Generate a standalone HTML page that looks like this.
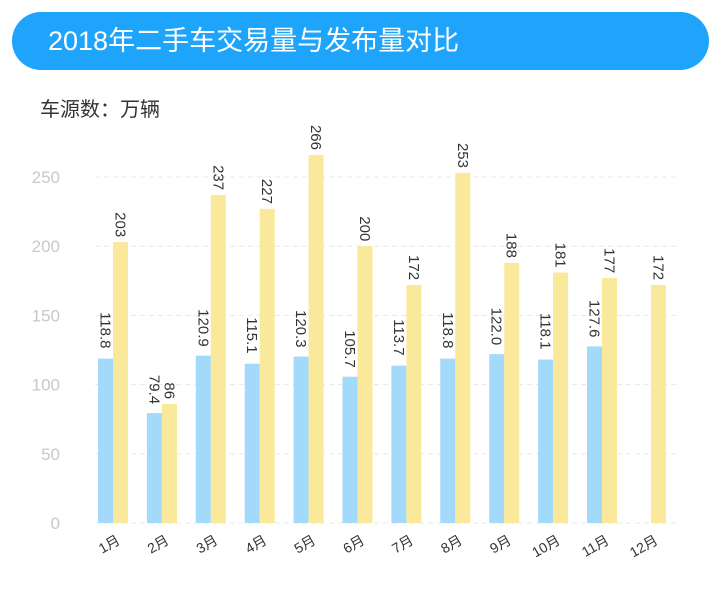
<!DOCTYPE html>
<html><head><meta charset="utf-8"><style>
body{margin:0;width:721px;height:595px;background:#fff;font-family:"Liberation Sans","Noto Sans CJK SC",sans-serif;overflow:hidden}
#hdr{position:absolute;left:12px;top:12px;width:697px;height:58px;border-radius:29px;background:#1ea5fb;color:#fff;font-size:27px;line-height:58px;padding-left:36px;box-sizing:border-box}
#unit{position:absolute;left:40px;top:93px;font-size:20px;color:#333}
</style></head><body>
<div id="hdr">2018年二手车交易量与发布量对比</div>
<div id="unit">车源数：万辆</div>
<svg id="c" width="721" height="595" style="position:absolute;left:0;top:0"></svg>
<script>
const categories=["1月","2月","3月","4月","5月","6月","7月","8月","9月","10月","11月","12月"];
const tradeValues=[118.8,79.4,120.9,115.1,120.3,105.7,113.7,118.8,122.0,118.1,127.6,null];
const tradeLabels=["118.8","79.4","120.9","115.1","120.3","105.7","113.7","118.8","122.0","118.1","127.6",""];
const postValues=[203,86,237,227,266,200,172,253,188,181,177,172];
const yTicks=[0,50,100,150,200,250];
const NS="http://www.w3.org/2000/svg";
const svg=document.getElementById('c');
const y0=523,pxPer=(523-177)/250;
const y=v=>y0-v*pxPer;
const x=i=>98+i*48.9;
const bw=15;
function mk(t,a){const e=document.createElementNS(NS,t);for(const k in a)e.setAttribute(k,a[k]);svg.appendChild(e);return e;}
yTicks.forEach(t=>{
 const l=mk('line',{x1:95,x2:680,y1:y(t),y2:y(t),stroke:'#e8e8e8','stroke-dasharray':'5,4'});
 
 
 const tx=mk('text',{x:60,y:y(t)+6,'text-anchor':'end','font-size':17,fill:'#c8c8c8'});
 tx.textContent=t;
 
 
});
function vlabel(cx,top,txt){
 const t=mk('text',{x:0,y:0,'font-size':15,fill:'#333','transform':`translate(${cx-5},${top-5}) rotate(90) translate(${-txt.length*8.3},0)`});
 t.textContent=txt;
 
 
}
categories.forEach((c,i)=>{
 const bx=x(i);
 if(tradeValues[i]!=null){
  const r=mk('rect',{x:bx,y:y(tradeValues[i]),width:bw,height:y0-y(tradeValues[i]),fill:'#a3d9fb'});
  
  
  vlabel(bx+bw/2,y(tradeValues[i]),tradeLabels[i]);
 }
 const r2=mk('rect',{x:bx+bw,y:y(postValues[i]),width:bw,height:y0-y(postValues[i]),fill:'#fae99b'});
 
 
 vlabel(bx+bw*1.5,y(postValues[i]),String(postValues[i]));
 const t=mk('text',{x:0,y:0,'font-size':14,fill:'#333','text-anchor':'end',transform:`translate(${bx+bw+8},${543}) rotate(-30)`});
 t.textContent=c;
 
 
});
</script>
</body></html>
